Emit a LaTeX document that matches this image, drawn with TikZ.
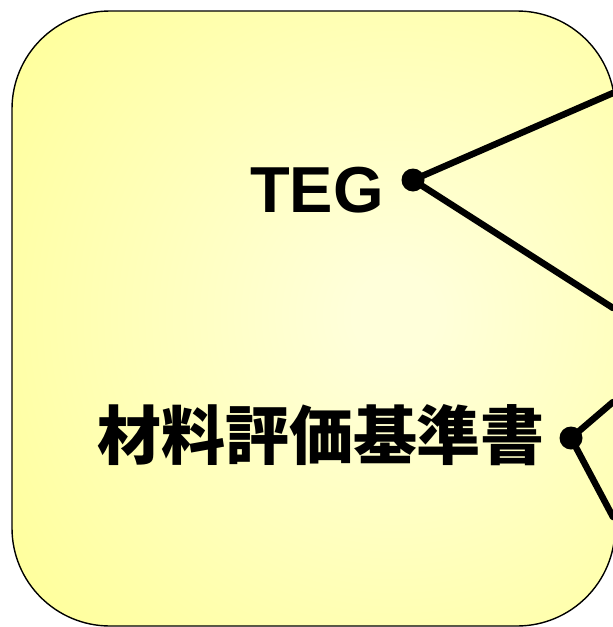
\documentclass[tikz,border=0pt]{standalone}
\usepackage{fontspec}
\setmainfont{Liberation Sans}
\newfontfamily\cjk{Noto Sans CJK JP}
\definecolor{paneledge}{RGB}{255,255,145}
\definecolor{panelcore}{RGB}{255,255,218}
\pgfdeclareradialshading{panelglow}{\pgfpoint{0bp}{0bp}}{%
  color(0bp)=(panelcore); color(2bp)=(panelcore); color(26bp)=(paneledge); color(50bp)=(paneledge)}
\tikzset{
  panel/.style={draw=black, line width=1.4pt, rounded corners=98pt},
  leader/.style={line width=6.5pt, line cap=round},
  knot/.style={circle, fill=black, inner sep=0pt, minimum size=23pt},
  label/.style={inner sep=0pt, text=black},
}
\begin{document}
\begin{tikzpicture}[x=1pt,y=-1pt]
\useasboundingbox (0,0) rectangle (613,627);
% shaded rounded panel
\begin{scope}
  \clip[rounded corners=98pt] (12,11) rectangle (615,626);
  \shade[shading=panelglow] (395,315) circle (520pt);
\end{scope}
\draw[panel] (12,11) rectangle (615,626);

% labels
\node[label, anchor=base east, font=\bfseries\fontsize{65}{65}\selectfont] (teg) at (384,212) {TEG};
\node[label, anchor=center, font=\cjk\bfseries\fontsize{64}{64}\selectfont] (spec) at (321,435) {材料評価基準書};

% junction points and leaders
\node[knot] (tegdot) at (413,180) {};
\node[knot] (specdot) at (571,438) {};
\coordinate (tegup) at (613,93);
\coordinate (tegdown) at (613,308);
\coordinate (specup) at (613,402);
\coordinate (specdown) at (613,517);
\draw[leader] (tegdot.center) -- (tegup);
\draw[leader] (tegdot.center) -- (tegdown);
\draw[leader] (specdot.center) -- (specup);
\draw[leader] (specdot.center) -- (specdown);
\end{tikzpicture}
\end{document}
